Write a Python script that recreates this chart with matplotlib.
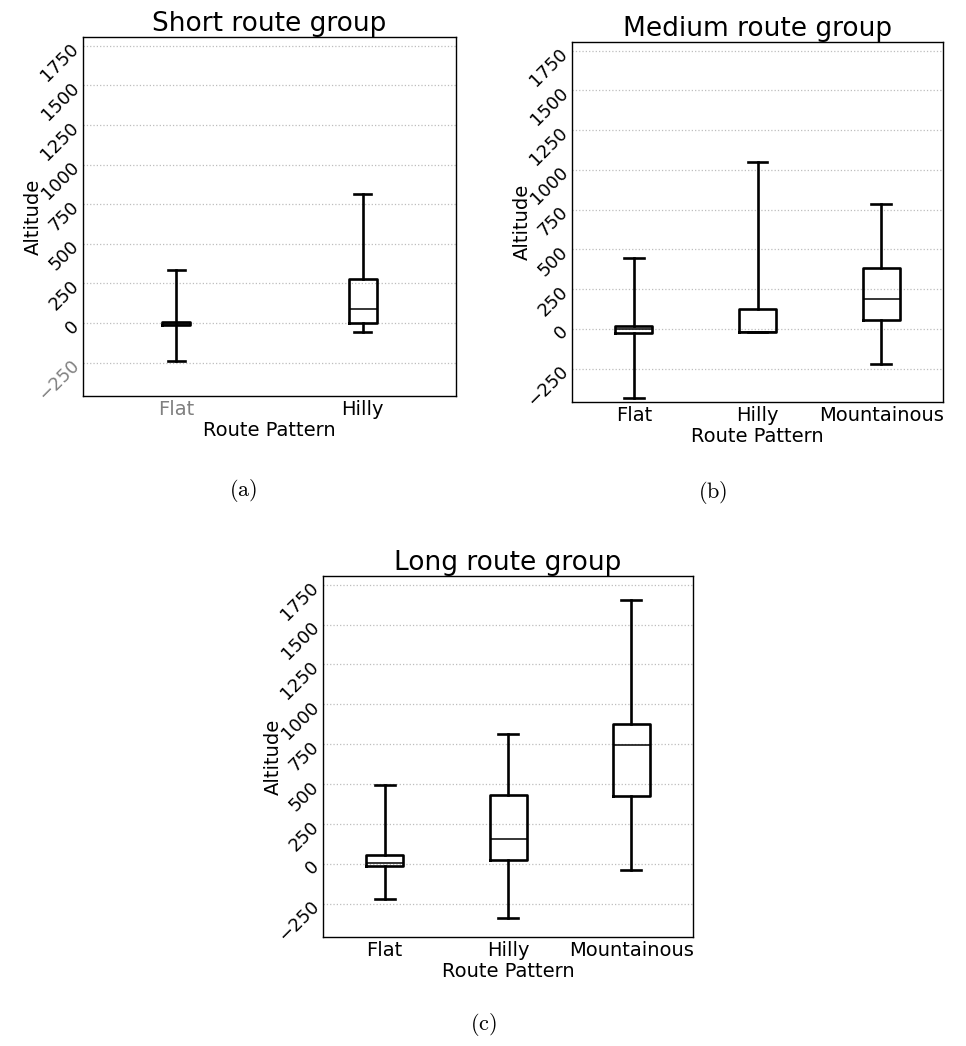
import matplotlib
matplotlib.use("Agg")
import matplotlib.pyplot as plt

plt.rcParams['font.family'] = ['DejaVu Sans']
plt.rcParams['mathtext.fontset'] = 'cm'

# ---- data ----
short_labels = ["Flat", "Hilly"]
short_whislo = [-237, -54]
short_q1 = [-10, -2]
short_med = [-3, 92]
short_q3 = [5, 279]
short_whishi = [337, 817]

medium_labels = ["Flat", "Hilly", "Mountainous"]
medium_whislo = [-434, -20, -222]
medium_q1 = [-25, -20, 57]
medium_med = [0, -18, 186]
medium_q3 = [19, 125, 386]
medium_whishi = [449, 1049, 788]

long_labels = ["Flat", "Hilly", "Mountainous"]
long_whislo = [-219, -338, -40]
long_q1 = [-17, 23, 427]
long_med = [6, 158, 742]
long_q3 = [54, 433, 875]
long_whishi = [494, 812, 1656]

yticks = [-250, 0, 250, 500, 750, 1000, 1250, 1500, 1750]

W, H = 966, 1046
fig = plt.figure(figsize=(W / 100, H / 100), dpi=100)


def px_axes(left, right, top, bottom):
    return fig.add_axes([left / W, 1 - bottom / H, (right - left) / W, (bottom - top) / H])


def panel(ax, title, labels, lo, q1, med, q3, hi, bw, cw):
    stats = []
    for i, lab in enumerate(labels):
        stats.append(dict(label=lab, whislo=lo[i], q1=q1[i], med=med[i],
                          q3=q3[i], whishi=hi[i], fliers=[]))
    n = len(labels)
    ax.bxp(stats, positions=list(range(1, n + 1)), widths=bw,
           capwidths=cw, showfliers=False,
           boxprops=dict(color='black', linewidth=1.9),
           whiskerprops=dict(color='black', linewidth=1.9),
           capprops=dict(color='black', linewidth=1.9),
           medianprops=dict(color='black', linewidth=1.1))
    ax.set_xlim(0.5, n + 0.5)
    ax.set_ylim(-460, 1805)
    ax.set_yticks(yticks)
    ax.set_yticklabels([str(t).replace('-', '\u2212') for t in yticks],
                       rotation=45, rotation_mode='anchor', ha='right', va='center',
                       fontsize=13)
    ax.tick_params(axis='both', length=0)
    ax.tick_params(axis='y', pad=5)
    ax.tick_params(axis='x', labelsize=14, pad=3)
    ax.yaxis.grid(True, linestyle=':', color='#bdbdbd', linewidth=0.9)
    ax.xaxis.grid(False)
    ax.set_axisbelow(True)
    for sp in ax.spines.values():
        sp.set_color('black')
        sp.set_linewidth(1.0)
    ax.set_title(title, fontsize=19, pad=3)
    ax.set_ylabel("Altitude", fontsize=14)
    ax.yaxis.set_label_coords(-0.108, 0.5)
    ax.set_xlabel("Route Pattern", fontsize=14, labelpad=1)


ax1 = px_axes(83, 456, 37, 396)
panel(ax1, "Short route group", short_labels, short_whislo, short_q1, short_med,
      short_q3, short_whishi, 0.15, 0.09)
ax1.get_xticklabels()[0].set_color('#808080')
ax1.get_yticklabels()[0].set_color('#808080')

ax2 = px_axes(572, 943, 42, 402)
panel(ax2, "Medium route group", medium_labels, medium_whislo, medium_q1, medium_med,
      medium_q3, medium_whishi, 0.30, 0.16)

ax3 = px_axes(323, 693, 576, 937)
panel(ax3, "Long route group", long_labels, long_whislo, long_q1, long_med,
      long_q3, long_whishi, 0.30, 0.16)

fig.text(243 / W, 1 - 490 / H, r"$\mathrm{(a)}$", ha='center', va='center', fontsize=16)
fig.text(713 / W, 1 - 492 / H, r"$\mathrm{(b)}$", ha='center', va='center', fontsize=16)
fig.text(483 / W, 1 - 1024 / H, r"$\mathrm{(c)}$", ha='center', va='center', fontsize=16)

fig.savefig("out.png", dpi=100, facecolor='white')
